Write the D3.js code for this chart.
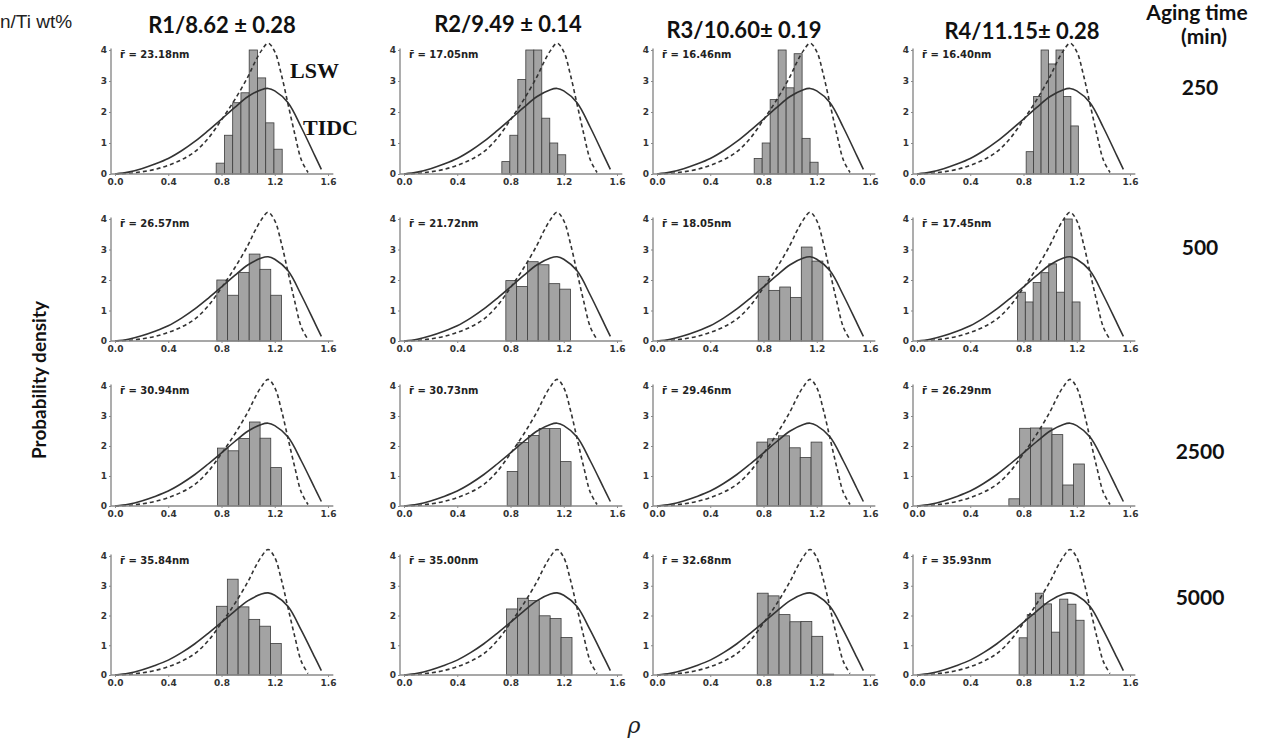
<!DOCTYPE html>
<html>
<head>
<meta charset="utf-8">
<script src="https://cdn.jsdelivr.net/npm/d3@7"></script>
<style>
body { margin: 0; background: #fff; }
</style>
</head>
<body>
<script>
// column headers (alloy / Mn:Ti wt%) and row labels (aging time, min)
var alloys = ["R1/8.62 \u00b1 0.28", "R2/9.49 \u00b1 0.14", "R3/10.60\u00b1 0.19", "R4/11.15\u00b1 0.28"];
var agingTimes = ["250", "500", "2500", "5000"];

// mean radius printed in each panel (nm), one array per aging time
var radius250 = ["23.18", "17.05", "16.46", "16.40"];
var radius500 = ["26.57", "21.72", "18.05", "17.45"];
var radius2500 = ["30.94", "30.73", "29.46", "26.29"];
var radius5000 = ["35.84", "35.00", "32.68", "35.93"];

// theoretical curves (same in every panel)
var lswRho = [0, 0.1, 0.2, 0.3, 0.4, 0.5, 0.6, 0.7, 0.8, 0.9, 1.0, 1.05, 1.1, 1.15, 1.2, 1.25, 1.3, 1.35, 1.4, 1.45];
var lswP   = [0, 0.02, 0.07, 0.15, 0.28, 0.46, 0.72, 1.15, 1.75, 2.4, 3.15, 3.6, 3.98, 4.22, 3.95, 3.2, 2.25, 1.3, 0.45, 0.05];
var tidcRho = [0, 0.1, 0.2, 0.3, 0.4, 0.5, 0.6, 0.7, 0.8, 0.9, 1.0, 1.1, 1.15, 1.2, 1.3, 1.4, 1.5, 1.55];
var tidcP   = [0, 0.06, 0.17, 0.32, 0.5, 0.75, 1.05, 1.4, 1.77, 2.15, 2.5, 2.72, 2.76, 2.68, 2.3, 1.5, 0.6, 0.15];

// histograms: lo = first bin edge, w = bin width, h = density of each bin
var hist250 = [
  {lo: 0.76, w: 0.062, h: [0.35, 1.25, 2.3, 2.62, 4.0, 3.1, 1.65, 0.8]},
  {lo: 0.735, w: 0.06, h: [0.4, 1.25, 3.05, 4.0, 4.0, 1.8, 1.0, 0.62]},
  {lo: 0.73, w: 0.06, h: [0.5, 1.0, 2.4, 4.0, 2.78, 3.88, 1.15, 0.38]},
  {lo: 0.82, w: 0.056, h: [0.72, 2.5, 4.0, 3.55, 4.0, 2.5, 1.55]}
];
var hist500 = [
  {lo: 0.765, w: 0.081, h: [2.0, 1.5, 2.25, 2.85, 2.35, 1.5]},
  {lo: 0.765, w: 0.081, h: [1.98, 1.79, 2.6, 2.5, 1.88, 1.7]},
  {lo: 0.76, w: 0.081, h: [2.12, 1.66, 1.77, 1.43, 3.08, 2.62]},
  {lo: 0.755, w: 0.0587, h: [1.6, 1.28, 1.92, 2.24, 2.53, 1.6, 4.0, 1.28]}
];
var hist2500 = [
  {lo: 0.77, w: 0.08, h: [1.93, 1.84, 2.25, 2.8, 2.26, 1.28]},
  {lo: 0.775, w: 0.08, h: [1.15, 2.12, 2.35, 2.58, 2.58, 1.48]},
  {lo: 0.75, w: 0.0815, h: [2.13, 2.24, 2.34, 1.94, 1.62, 2.13]},
  {lo: 0.69, w: 0.081, h: [0.24, 2.59, 2.6, 2.6, 2.38, 0.7, 1.4]}
];
var hist5000 = [
  {lo: 0.763, w: 0.081, h: [2.31, 3.22, 2.29, 1.87, 1.64, 1.06]},
  {lo: 0.77, w: 0.082, h: [2.22, 2.58, 2.5, 1.99, 1.9, 1.26]},
  {lo: 0.753, w: 0.082, h: [2.75, 2.66, 2.03, 1.79, 1.8, 1.3, 0.03]},
  {lo: 0.767, w: 0.061, h: [1.25, 2.03, 2.75, 2.39, 1.44, 2.55, 2.38, 1.84]}
];

var xTicks = [0, 0.4, 0.8, 1.2, 1.6];
var yTicks = [0, 1, 2, 3, 4];

var radii = [radius250, radius500, radius2500, radius5000];
var hists = [hist250, hist500, hist2500, hist5000];

var width = 1266, height = 738;
var colX = [115, 404, 657, 917];   // pixel of rho = 0 in each column
var rowY = [174, 341, 506, 675];   // pixel of density = 0 in each row
var rowTop = [50, 219, 386, 556];  // pixel of density = 4 in each row
var pw = 213;

var svg = d3.select("body").append("svg")
  .attr("width", width)
  .attr("height", height)
  .style("font-family", "Lato, sans-serif");

var tickFont = "'DejaVu Sans', sans-serif";

agingTimes.forEach(function(t, r) {
  alloys.forEach(function(a, c) {
    var x = d3.scaleLinear().domain([0, 1.6]).range([colX[c], colX[c] + pw]);
    var y = d3.scaleLinear().domain([0, 4]).range([rowY[r], rowTop[r]]);
    var g = svg.append("g");

    // histogram
    var hd = hists[r][c];
    g.selectAll("rect.bar")
      .data(hd.h)
      .enter().append("rect")
      .attr("class", "bar")
      .attr("x", function(d, i) { return x(hd.lo + i * hd.w); })
      .attr("width", function(d, i) { return x(hd.lo + (i + 1) * hd.w) - x(hd.lo + i * hd.w); })
      .attr("y", function(d) { return y(d); })
      .attr("height", function(d) { return y(0) - y(d); })
      .attr("fill", "#a3a3a3")
      .attr("stroke", "#3c3c3c")
      .attr("stroke-width", 0.8);

    // model curves
    var line = d3.line()
      .x(function(d) { return x(d[0]); })
      .y(function(d) { return y(d[1]); })
      .curve(d3.curveCatmullRom);

    g.append("path")
      .attr("d", line(d3.zip(lswRho, lswP)))
      .attr("fill", "none")
      .attr("stroke", "#333")
      .attr("stroke-width", 1.6)
      .attr("stroke-dasharray", "4,3");

    g.append("path")
      .attr("d", line(d3.zip(tidcRho, tidcP)))
      .attr("fill", "none")
      .attr("stroke", "#333")
      .attr("stroke-width", 1.6);

    // x axis
    var xAxis = g.append("g")
      .attr("transform", "translate(0," + rowY[r] + ")")
      .call(d3.axisBottom(x).tickValues(xTicks).tickFormat(d3.format(".1f")).tickSize(2).tickPadding(3));
    xAxis.select(".domain").remove();
    xAxis.append("line")
      .attr("x1", x(-0.03)).attr("x2", x(1.64))
      .attr("stroke", "#8a8a8a").attr("stroke-width", 1.4);

    // y axis
    var yAxis = g.append("g")
      .attr("transform", "translate(" + x(-0.03) + ",0)")
      .call(d3.axisLeft(y).tickValues(yTicks).tickFormat(d3.format("d")).tickSize(2).tickPadding(2));
    yAxis.select(".domain").remove();
    yAxis.append("line")
      .attr("y1", y(0)).attr("y2", y(4.05))
      .attr("stroke", "#8a8a8a").attr("stroke-width", 1.4);

    g.selectAll(".tick line").attr("stroke", "#8a8a8a");
    g.selectAll(".tick text")
      .attr("fill", "#333")
      .style("font-family", tickFont)
      .style("font-size", "9px")
      .style("font-weight", "bold");

    // mean radius label
    g.append("text")
      .attr("x", x(0) + 5)
      .attr("y", y(4) + 8)
      .attr("fill", "#222")
      .style("font-family", tickFont)
      .style("font-size", "10px")
      .style("font-weight", "bold")
      .text("r\u0304 = " + radii[r][c] + "nm");
  });
});

// curve names in the first panel
svg.append("text").attr("x", 290).attr("y", 78)
  .style("font-family", "'Liberation Serif', serif").style("font-weight", "bold").style("font-size", "22px")
  .attr("fill", "#111").text("LSW");
svg.append("text").attr("x", 303).attr("y", 135)
  .style("font-family", "'Liberation Serif', serif").style("font-weight", "bold").style("font-size", "22px")
  .attr("fill", "#111").text("TIDC");

// column headers
var headX = [222, 508, 744, 1022];
var headY = [33, 32, 38, 39];
svg.selectAll("text.head")
  .data(alloys)
  .enter().append("text")
  .attr("class", "head")
  .attr("x", function(d, i) { return headX[i]; })
  .attr("y", function(d, i) { return headY[i]; })
  .attr("text-anchor", "middle")
  .style("font-size", "22px")
  .style("font-weight", "bold")
  .attr("fill", "#111")
  .text(function(d) { return d; });

svg.append("text").attr("x", 0).attr("y", 28)
  .style("font-family", "'Liberation Sans', Arial, sans-serif").style("font-size", "19px")
  .attr("fill", "#222").text("n/Ti wt%");

// aging time labels
svg.append("text").attr("x", 1197).attr("y", 20).attr("text-anchor", "middle")
  .style("font-size", "21px").style("font-weight", "bold").attr("fill", "#111").text("Aging time");
svg.append("text").attr("x", 1204).attr("y", 44).attr("text-anchor", "middle")
  .style("font-size", "21px").style("font-weight", "bold").attr("fill", "#111").text("(min)");

var ageY = [95, 255, 459, 605];
svg.selectAll("text.age")
  .data(agingTimes)
  .enter().append("text")
  .attr("class", "age")
  .attr("x", 1200)
  .attr("y", function(d, i) { return ageY[i]; })
  .attr("text-anchor", "middle")
  .style("font-size", "21px")
  .style("font-weight", "bold")
  .attr("fill", "#111")
  .text(function(d) { return d; });

// axis titles
svg.append("text")
  .attr("transform", "translate(46,380) rotate(-90)")
  .attr("text-anchor", "middle")
  .style("font-size", "19px").style("font-weight", "bold").attr("fill", "#111")
  .text("Probability density");

svg.append("text").attr("x", 634).attr("y", 733).attr("text-anchor", "middle")
  .style("font-family", "'DejaVu Serif', serif").style("font-style", "italic").style("font-size", "22px")
  .attr("fill", "#222").text("\u03c1");
</script>
</body>
</html>
